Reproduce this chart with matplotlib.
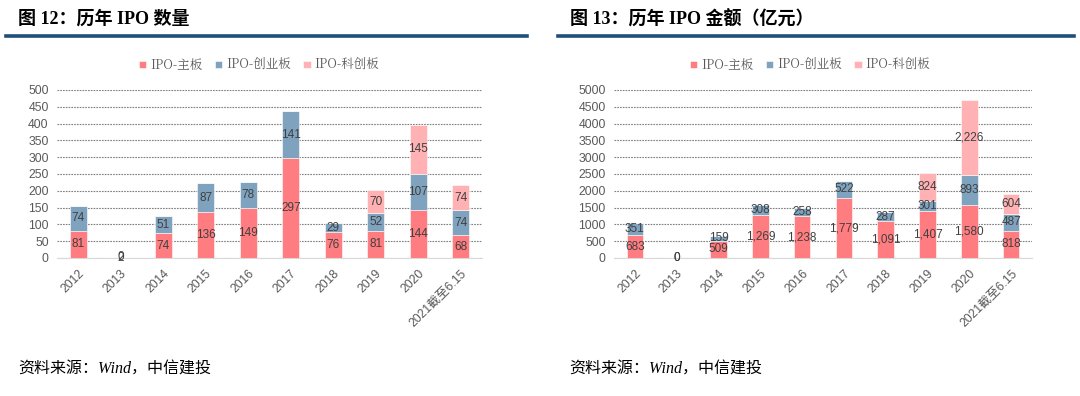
import matplotlib
matplotlib.use('Agg')
import matplotlib.pyplot as plt
import numpy as np

plt.rcParams['font.family'] = ['Liberation Sans', 'Noto Sans CJK SC']

# ── data ──────────────────────────────────────────────────────────────────────
years = ['2012', '2013', '2014', '2015', '2016', '2017', '2018', '2019', '2020',
         '2021截至6.15']
series_names = ['IPO-主板', 'IPO-创业板', 'IPO-科创板']

count_main  = [81, 2, 74, 136, 149, 297, 76, 81, 144, 68]
count_gem   = [74, 0, 51, 87, 78, 141, 29, 52, 107, 74]
count_star  = [0, 0, 0, 0, 0, 0, 0, 70, 145, 74]

amount_main = [683, 0, 509, 1269, 1238, 1779, 1091, 1407, 1580, 818]
amount_gem  = [351, 0, 159, 308, 258, 522, 287, 301, 893, 487]
amount_star = [0, 0, 0, 0, 0, 0, 0, 824, 2226, 604]

COLORS     = ['#FF7C80', '#7FA3BE', '#FFB1B3']
RULE_BLUE  = '#1F4E79'
TEXT_GRAY  = '#595959'
LABEL_GRAY = '#404040'
CJK_SERIF  = ['Liberation Serif', 'Noto Sans CJK SC']


def stacked_panel(fig, rect, main, gem, star, ymax, step, legend_x):
    ax = fig.add_axes(rect)
    x = np.arange(len(years))
    bottom = np.zeros(len(years))
    for i, vals in enumerate([main, gem, star]):
        vals = np.array(vals, dtype=float)
        ax.bar(x, vals, 0.4, bottom=bottom, color=COLORS[i],
               label=series_names[i], edgecolor='white', linewidth=0.4, zorder=3)
        for xi, v, b in zip(x, vals, bottom):
            if i == 2 and v == 0:
                continue
            ax.text(xi, b + v / 2, f'{int(v):,}', ha='center', va='center',
                    fontsize=8.5, color=LABEL_GRAY, zorder=4,
                    family=['Liberation Sans', 'DejaVu Sans'])
        bottom += vals

    ax.set_xlim(-0.5, len(years) - 0.5)
    ax.set_ylim(0, ymax)
    ax.set_yticks(np.arange(0, ymax + 1, step))
    ax.yaxis.grid(True, color='#7f7f7f', linestyle=(0, (1.5, 1)), linewidth=0.8,
                  zorder=0)
    ax.set_axisbelow(True)
    for s in ['top', 'right', 'left']:
        ax.spines[s].set_visible(False)
    ax.spines['bottom'].set_color('#d9d9d9')
    ax.tick_params(axis='both', length=0, labelsize=8.8, labelcolor=TEXT_GRAY)
    ax.tick_params(axis='y', pad=6)
    ax.tick_params(axis='x', pad=7)
    ax.set_xticks(x)
    ax.set_xticklabels(years, rotation=45, ha='right', rotation_mode='anchor')

    fig.legend(*ax.get_legend_handles_labels(), loc='center',
               bbox_to_anchor=(legend_x, 1 - 65 / 396), ncol=3, frameon=False,
               handlelength=0.6, handleheight=0.6,
               handletextpad=0.3, columnspacing=1.0, labelcolor=TEXT_GRAY,
               prop={'family': ['Noto Serif CJK SC', 'Noto Sans CJK SC'], 'size': 9})
    return ax


W, H = 1080, 396
fig = plt.figure(figsize=(W / 100, H / 100), dpi=100)

# ── left: counts ──────────────────────────────────────────────────────────────
stacked_panel(fig, [57 / W, 1 - 258 / H, 425 / W, 168 / H],
              count_main, count_gem, count_star, 500, 50, 259 / W)
fig.text(18 / W, 1 - 19 / H, '图 12：历年 IPO 数量', fontsize=13, fontweight='bold',
         va='center', ha='left', family=CJK_SERIF)
fig.add_artist(plt.Line2D([6 / W, 527 / W], [1 - 36 / H] * 2, color=RULE_BLUE,
                          linewidth=2.6))
fig.text(18 / W, 1 - 370 / H, '资料来源：Wind，中信建投', fontsize=11.5,
         style='italic', va='center', ha='left', family=CJK_SERIF)

# ── right: amounts ────────────────────────────────────────────────────────────
stacked_panel(fig, [614 / W, 1 - 258 / H, 418 / W, 168 / H],
              amount_main, amount_gem, amount_star, 5000, 500, 810 / W)
fig.text(570 / W, 1 - 19 / H, '图 13：历年 IPO 金额（亿元）', fontsize=13,
         fontweight='bold', va='center', ha='left', family=CJK_SERIF)
fig.add_artist(plt.Line2D([558 / W, 1074 / W], [1 - 36 / H] * 2, color=RULE_BLUE,
                          linewidth=2.6))
fig.text(569 / W, 1 - 370 / H, '资料来源：Wind，中信建投', fontsize=11.5,
         style='italic', va='center', ha='left', family=CJK_SERIF)

fig.savefig('out.png', dpi=100)
